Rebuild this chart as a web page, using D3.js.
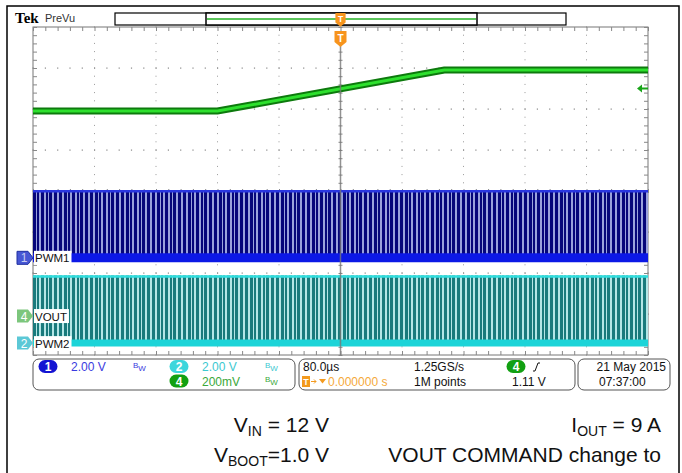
<!DOCTYPE html>
<html>
<head>
<meta charset="utf-8">
<script src="https://cdn.jsdelivr.net/npm/d3@7"></script>
<style>
  body { margin: 0; background: #fff; }
  svg { display: block; font-family: "Liberation Sans", Arial, sans-serif; }
</style>
</head>
<body>
<script>
// scope settings
const timePerDiv = 80;               // µs
const timeDomain = [-400, 400];      // 10 divisions, trigger at centre
const chNames = ["1", "2", "4"];
const chLabels = ["PWM1", "PWM2", "VOUT"];
const chVoltsPerDiv = [2.0, 2.0, 0.2];
const chGroundDiv = [-1.63, -3.71, -3.05];   // ground marker, divisions from centre
const pwmHighVolts = [3.3, 3.3];              // ch1, ch2 switching amplitude

// ch4 VOUT : boot 1.0 V, commanded to 1.2 V
const voutTimes = [-400, -160, 135, 400];
const voutVolts = [1.0, 1.0, 1.2, 1.2];
const trigLevel = 1.11;

const statusScale = ["2.00 V", "2.00 V", "200mV"];
const horizText = ["80.0µs", "1.25GS/s", "1M points", "0.000000 s"];
const dateText = ["21 May 2015", "07:37:00"];

const W = 682, H = 473;
const svg = d3.select("body").append("svg").attr("width", W).attr("height", H);

const x = d3.scaleLinear().domain(timeDomain).range([33, 648]);
const y = d3.scaleLinear().domain([-4, 4]).range([355, 27]);
const minorT = d3.range(timeDomain[0], timeDomain[1] + 0.1, timePerDiv / 5);
const minorV = d3.range(-4, 4.01, 0.2);

// stripe patterns for the aliased pwm bursts
const defs = svg.append("defs");
function stripes(id, bg, fg) {
  const p = defs.append("pattern").attr("id", id)
    .attr("patternUnits", "userSpaceOnUse").attr("width", 31).attr("height", 10);
  p.append("rect").attr("width", 31).attr("height", 10).attr("fill", bg);
  [[0, 2], [5, 1], [8, 2], [13, 2], [17, 1], [21, 2], [26, 2]].forEach(s =>
    p.append("rect").attr("x", s[0]).attr("width", s[1]).attr("height", 10).attr("fill", fg));
}
stripes("blueStr", "#06067a", "#9aa2dc");
stripes("cyanStr", "#197a7c", "#b4e6e6");

// outer frame
svg.append("path").attr("d", "M7,473 V6 H679 V473")
  .attr("fill", "none").attr("stroke", "#000").attr("stroke-width", 1.5);

// header
svg.append("text").attr("x", 15).attr("y", 23).attr("font-size", 15)
  .attr("font-weight", "bold").attr("font-family", "Liberation Serif, serif").text("Tek");
svg.append("text").attr("x", 45).attr("y", 22).attr("font-size", 11).attr("fill", "#333").text("PreVu");
svg.append("rect").attr("x", 115).attr("y", 13).attr("width", 451).attr("height", 12)
  .attr("fill", "#fff").attr("stroke", "#000").attr("stroke-width", 1.2);
svg.append("rect").attr("x", 206).attr("y", 13).attr("width", 271).attr("height", 12)
  .attr("fill", "#fff").attr("stroke", "#000").attr("stroke-width", 1.5);
svg.append("line").attr("x1", 207).attr("x2", 476).attr("y1", 19).attr("y2", 19)
  .attr("stroke", "#5cc45c").attr("stroke-width", 2);

// graticule
const grid = svg.append("g");
d3.range(1, 10).filter(i => i !== 5).forEach(i => {
  const gxp = x(timeDomain[0] + i * timePerDiv);
  minorV.forEach(v => grid.append("rect").attr("x", gxp - 0.5).attr("y", y(v) - 0.5)
    .attr("width", 1).attr("height", 1).attr("fill", "#999"));
});
d3.range(-3, 4).filter(j => j !== 0).forEach(j => {
  minorT.forEach(t => grid.append("rect").attr("x", x(t) - 0.5).attr("y", y(j) - 0.5)
    .attr("width", 1.2).attr("height", 1.2).attr("fill", "#888"));
});
svg.append("rect").attr("x", 33).attr("y", 27).attr("width", 615).attr("height", 328)
  .attr("fill", "none").attr("stroke", "#777").attr("stroke-width", 1);

// edge and centre ticks through the axis generator
const tickX = d3.axisTop(x).tickValues(minorT).tickSize(4).tickFormat("");
const tickXd = d3.axisBottom(x).tickValues(minorT).tickSize(4).tickFormat("");
const tickY = d3.axisRight(y).tickValues(minorV).tickSize(4).tickFormat("");
const tickYl = d3.axisLeft(y).tickValues(minorV).tickSize(4).tickFormat("");
svg.append("g").attr("transform", "translate(0,355)").call(tickX);
svg.append("g").attr("transform", "translate(0,27)").call(tickXd);
svg.append("g").attr("transform", "translate(33,0)").call(tickY);
svg.append("g").attr("transform", "translate(648,0)").call(tickYl);
svg.append("g").attr("transform", `translate(0,${y(0) + 2})`).call(tickX);
svg.append("g").attr("transform", `translate(${x(0) - 2},0)`).call(tickY);
svg.selectAll(".domain").remove();
svg.selectAll(".tick line").attr("stroke", "#888");
svg.append("g").selectAll("rect").data(minorT).join("rect")
  .attr("x", d => x(d) - 0.5).attr("y", y(0) - 0.5).attr("width", 1.2).attr("height", 1.2).attr("fill", "#888");

// pwm bands
[0, 1].forEach(c => {
  const g0 = chGroundDiv[c];
  const top = y(g0 + pwmHighVolts[c] / chVoltsPerDiv[c]);
  const base = y(g0);
  svg.append("rect").attr("x", x(timeDomain[0])).attr("y", top)
    .attr("width", x(timeDomain[1]) - x(timeDomain[0])).attr("height", base - top)
    .attr("fill", c === 0 ? "url(#blueStr)" : "url(#cyanStr)");
  svg.append("line").attr("x1", x(timeDomain[0])).attr("x2", x(timeDomain[1]))
    .attr("y1", top + 1).attr("y2", top + 1)
    .attr("stroke", c === 0 ? "#2a36e0" : "#30dede").attr("stroke-width", 2.5);
  svg.append("line").attr("x1", x(timeDomain[0])).attr("x2", x(timeDomain[1]))
    .attr("y1", base).attr("y2", base)
    .attr("stroke", c === 0 ? "#0c18e6" : "#1cd4d8").attr("stroke-width", c === 0 ? 9 : 7);
});

// vout trace
const yV = v => y(chGroundDiv[2] + v / chVoltsPerDiv[2]);
const line = d3.line().x(d => x(d[0])).y(d => yV(d[1]));
const pts = d3.zip(voutTimes, voutVolts);
svg.append("path").attr("d", line(pts)).attr("fill", "none")
  .attr("stroke", "#0d7a0d").attr("stroke-width", 7);
svg.append("path").attr("d", line(pts)).attr("fill", "none")
  .attr("stroke", "#2ee02e").attr("stroke-width", 3);

// trigger position line
svg.append("line").attr("x1", x(0)).attr("x2", x(0)).attr("y1", 46).attr("y2", 355)
  .attr("stroke", "#777").attr("stroke-width", 1.5).attr("opacity", 0.8);

// trigger markers
function tMark(cx, cy, s) {
  const g = svg.append("g").attr("transform", `translate(${cx},${cy}) scale(${s})`);
  g.append("path").attr("d", "M-6,-7 H6 V4 L0,9 L-6,4 Z").attr("fill", "#f7941d");
  g.append("text").attr("y", 3.5).attr("text-anchor", "middle").attr("font-size", 10)
    .attr("font-weight", "bold").attr("fill", "#fff").text("T");
}
tMark(x(0), 19, 0.85);
tMark(x(0), 38, 1);

// trigger level arrow
const ty = yV(trigLevel);
svg.append("path").attr("d", `M637,${ty} L642,${ty - 4} V${ty - 1} H648 V${ty + 1} H642 V${ty + 4} Z`)
  .attr("fill", "#1aa51a");

// channel markers
const markerFill = ["#4757d4", "#5cc8d6", "#7cc67c"];
const markerY = chGroundDiv.map(d => y(d));
chNames.forEach((n, c) => {
  const cy = markerY[c];
  svg.append("path").attr("d", `M17,${cy - 6.5} H28 L33,${cy} L28,${cy + 6.5} H17 Z`)
    .attr("fill", markerFill[c]).attr("stroke", c === 0 ? "#2030a0" : "none");
  svg.append("text").attr("x", 24).attr("y", cy + 4.5).attr("text-anchor", "middle")
    .attr("font-size", 12).attr("fill", c === 0 ? "#c8ccf0" : "#fff").text(n);
  const bg = svg.append("rect").attr("x", 34).attr("y", cy - 7).attr("height", 14).attr("fill", "#fff");
  const t = svg.append("text").attr("x", 35).attr("y", cy + 4.5).attr("font-size", 11.5)
    .attr("fill", "#111").text(chLabels[c]);
  bg.attr("width", t.node().getComputedTextLength() + 3);
});

// status bar
const box = (x0, x1) => svg.append("rect").attr("x", x0).attr("y", 359).attr("width", x1 - x0)
  .attr("height", 31).attr("rx", 6).attr("fill", "#fff").attr("stroke", "#555");
box(33, 295); box(299, 575); box(578, 670);

function pill(cx, cy, n, fill) {
  svg.append("rect").attr("x", cx - 9.5).attr("y", cy - 6.5).attr("width", 19).attr("height", 13)
    .attr("rx", 6.5).attr("fill", fill);
  svg.append("text").attr("x", cx).attr("y", cy + 4.5).attr("text-anchor", "middle")
    .attr("font-size", 12).attr("font-weight", "bold").attr("fill", "#fff").text(n);
}
function txt(x0, y0, s, col, anchor) {
  return svg.append("text").attr("x", x0).attr("y", y0).attr("font-size", 12)
    .attr("fill", col).attr("text-anchor", anchor || "start").text(s);
}
function bw(x0, y0, col) {
  const t = svg.append("text").attr("x", x0).attr("y", y0).attr("font-size", 8).attr("fill", col);
  t.append("tspan").text("B");
  t.append("tspan").attr("dy", 3).text("W");
}
const stCol = ["#3a3ae0", "#3cc8d0", "#3aa83a"];
const pillCol = ["#1414d2", "#3cd6dc", "#12a012"];
pill(48, 366.5, chNames[0], pillCol[0]); txt(71, 371, statusScale[0], stCol[0]); bw(133, 368, stCol[0]);
pill(179, 366.5, chNames[1], pillCol[1]); txt(202, 371, statusScale[1], stCol[1]); bw(265, 368, stCol[1]);
pill(179, 381, chNames[2], pillCol[2]); txt(202, 386, statusScale[2], stCol[2]); bw(265, 382, stCol[2]);

txt(303, 371, horizText[0], "#111");
svg.append("rect").attr("x", 302).attr("y", 376).attr("width", 8).attr("height", 11).attr("fill", "#f39a1e");
svg.append("text").attr("x", 306).attr("y", 385).attr("text-anchor", "middle").attr("font-size", 9)
  .attr("font-weight", "bold").attr("fill", "#fff").text("T");
svg.append("path").attr("d", "M311,381.5 h5 m-2,-2 l2,2 l-2,2").attr("fill", "none").attr("stroke", "#f39a1e");
svg.append("path").attr("d", "M319,379 h7 l-3.5,4.5 z").attr("fill", "#f39a1e");
txt(328, 386, horizText[3], "#f5a93a");
txt(414, 371, horizText[1], "#111");
txt(414, 386, horizText[2], "#111");
pill(516, 366.5, chNames[2], pillCol[2]);
svg.append("path").attr("d", "M533,371 h2 l3,-8 h2").attr("fill", "none").attr("stroke", "#111");
txt(512, 386, trigLevel.toFixed(2) + " V", "#111");
txt(666, 371, dateText[0], "#111", "end");
txt(599, 386, dateText[1], "#111");

// caption under the screen
function cap(x0, y0, parts, anchor) {
  const t = svg.append("text").attr("x", x0).attr("y", y0).attr("font-size", 21)
    .attr("fill", "#111").attr("text-anchor", anchor);
  parts.forEach(p => {
    const s = t.append("tspan").text(p[0]);
    if (p[1] === "sub") s.attr("font-size", 14).attr("dy", 4);
    if (p[1] === "up") s.attr("dy", -4);
  });
}
cap(329, 432, [["V"], ["IN", "sub"], [" = 12 V", "up"]], "end");
cap(329, 462, [["V"], ["BOOT", "sub"], ["=1.0 V", "up"]], "end");
cap(661, 432, [["I"], ["OUT", "sub"], [" = 9 A", "up"]], "end");
cap(661, 462, [["VOUT COMMAND change to"]], "end");
cap(661, 492, [["1.2 V"]], "end");
</script>
</body>
</html>
